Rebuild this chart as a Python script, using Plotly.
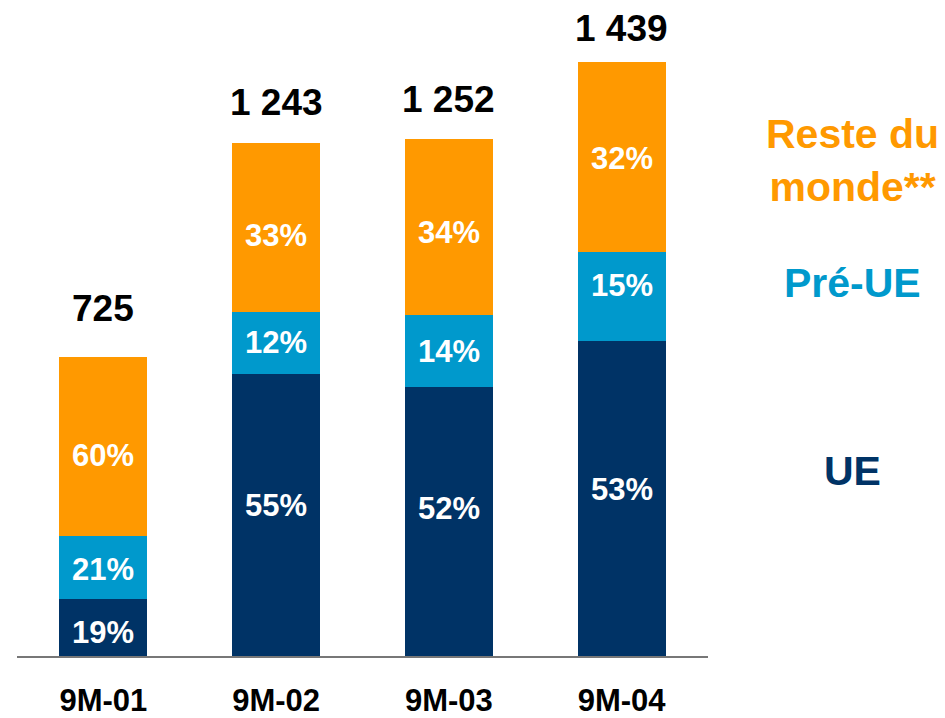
import plotly.graph_objects as go

categories = ["9M-01", "9M-02", "9M-03", "9M-04"]
totals = [725, 1243, 1252, 1439]
pct_ue = [19, 55, 52, 53]
pct_pre_ue = [21, 12, 14, 15]
pct_reste = [60, 33, 34, 32]
total_labels = ["725", "1 243", "1 252", "1 439"]

NAVY = "#003366"
BLUE = "#0099CC"
ORANGE = "#FF9900"
FONT = "Liberation Sans, Arial, sans-serif"

# label nudges in pixels (style only)
total_yshift = [26, 18, 17, 11]
inner_yshift = {
    "UE": [-5, 9, 13, 9],
    "Pré-UE": [-2, 0, 0, 11],
    "Reste": [-9, -8, -6, -2],
}


def seg(pcts):
    return [t * p / 100 for t, p in zip(totals, pcts)]


fig = go.Figure()
base = [0.0] * len(categories)
for key, pcts, color in [("UE", pct_ue, NAVY), ("Pré-UE", pct_pre_ue, BLUE),
                         ("Reste", pct_reste, ORANGE)]:
    vals = seg(pcts)
    fig.add_trace(go.Bar(
        x=categories, y=vals, name=key,
        marker=dict(color=color, line=dict(width=0)),
        hoverinfo="skip",
    ))
    for i, c in enumerate(categories):
        fig.add_annotation(x=c, y=base[i] + vals[i] / 2, text=f"{pcts[i]}%",
                           showarrow=False, yanchor="middle", xanchor="center",
                           yshift=inner_yshift[key][i],
                           font=dict(family=FONT, size=31, color="white", weight="bold"))
        base[i] += vals[i]

for c, t, lab, ys in zip(categories, totals, total_labels, total_yshift):
    fig.add_annotation(x=c, y=t, text=lab, showarrow=False, yanchor="bottom",
                       yshift=ys, font=dict(family=FONT, size=37, color="black", weight="bold"))

legend_items = [("Reste du<br>monde**", ORANGE, 0.755), ("Pré-UE", BLUE, 0.569), ("UE", NAVY, 0.282)]
for txt, col, yy in legend_items:
    fig.add_annotation(xref="paper", yref="paper", x=(853 - 16) / 692, y=yy, text=txt,
                       showarrow=False, xanchor="center", yanchor="middle", align="center",
                       font=dict(family=FONT, size=41, color=col, weight="bold"))

fig.update_layout(
    width=945, height=718, barmode="stack", bargap=0.49,
    margin=dict(l=17, r=237, t=0, b=62),
    plot_bgcolor="white", paper_bgcolor="white", showlegend=False,
)
fig.update_xaxes(showline=True, linecolor="#777777", linewidth=2, ticks="",
                 tickfont=dict(family=FONT, size=31, color="black", weight="bold"),
                 ticklabelstandoff=16, automargin=False, showgrid=False)
fig.update_yaxes(range=[0, 1589], visible=False, showgrid=False, automargin=False)

fig.write_html("out.html", config={"displayModeBar": False},
               post_script="document.body.style.margin='0';document.body.style.padding='0';")
